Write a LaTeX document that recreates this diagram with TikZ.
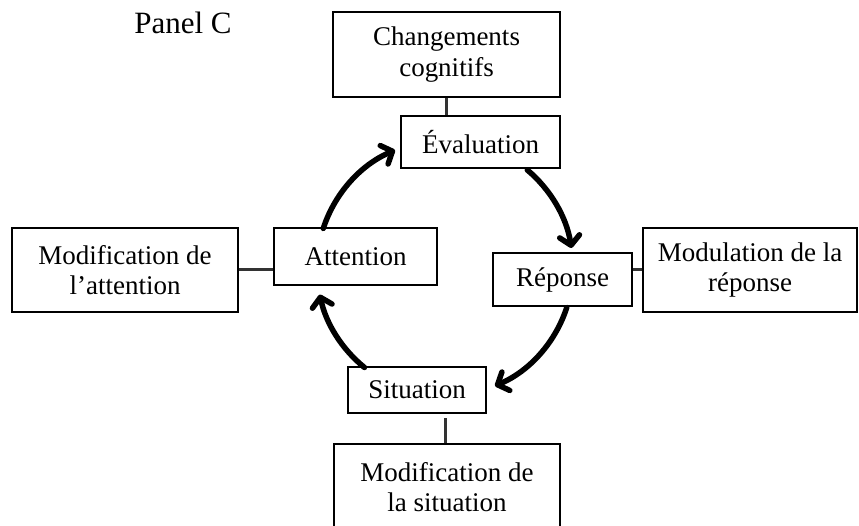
\documentclass[tikz,border=0pt]{standalone}
\usepackage{fontspec}
\setmainfont{Liberation Serif}
\usetikzlibrary{arrows.meta}
\tikzset{
  box/.style={draw=black, line width=1.5pt, fill=white, inner sep=0pt, align=center,
    font=\fontsize{27}{30.5}\selectfont},
  link/.style={draw=black!80, line width=3pt},
  cyc/.style={draw=black, line width=5.5pt, line cap=round,
    -{Straight Barb[length=9pt,width=20pt,line cap=round,line join=round]}}
}
\begin{document}
\begin{tikzpicture}[x=1pt,y=1pt]
\useasboundingbox (0,0) rectangle (859,-526);
\fill[white] (0,0) rectangle (859,-526);
\node[font=\fontsize{31}{34}\selectfont] (title) at (183,-23) {Panel C};
\node[box, minimum width=227pt, minimum height=85pt] (cog) at (446.5,-54.5) {Changements\\cognitifs};
\node[box, minimum width=159pt, minimum height=52pt] (eval) at (480.5,-142) {Évaluation};
\node[box, minimum width=226pt, minimum height=84pt] (modatt) at (125,-270) {Modification de\\l’attention};
\node[box, minimum width=163pt, minimum height=57pt] (att) at (355.5,-256.5) {Attention};
\node[box, minimum width=139pt, minimum height=53pt] (rep) at (562.5,-279.5) {Réponse};
\node[box, minimum width=214pt, minimum height=84pt] (modrep) at (750,-270) {Modulation de la\\réponse};
\node[box, minimum width=138pt, minimum height=46pt] (sit) at (417,-390) {Situation};
\node[box, minimum width=226pt, minimum height=86pt] (modsit) at (447,-487) {Modification de\\la situation};
\coordinate (c) at (445,-268);
% connectors
\draw[link] (cog.south) -- (cog.south |- eval.north);
\draw[link] (modatt.east) -- (modatt.east -| att.west);
\draw[link] (modrep.west) -- (modrep.west -| rep.east);
\draw[link, shorten >=4pt] (modsit.north -| 445,0) -- (sit.south -| 445,0);
% cycle arrows
\draw[cyc] ([shift={(162:128)}]c) arc[start angle=162, end angle=113, radius=128];
\draw[cyc] ([shift={(50:128)}]c) arc[start angle=50, end angle=9, radius=128];
\draw[cyc] ([shift={(-18:128)}]c) arc[start angle=-18, end angle=-67, radius=128];
\draw[cyc] ([shift={(231:128)}]c) arc[start angle=231, end angle=192, radius=128];
\end{tikzpicture}
\end{document}
